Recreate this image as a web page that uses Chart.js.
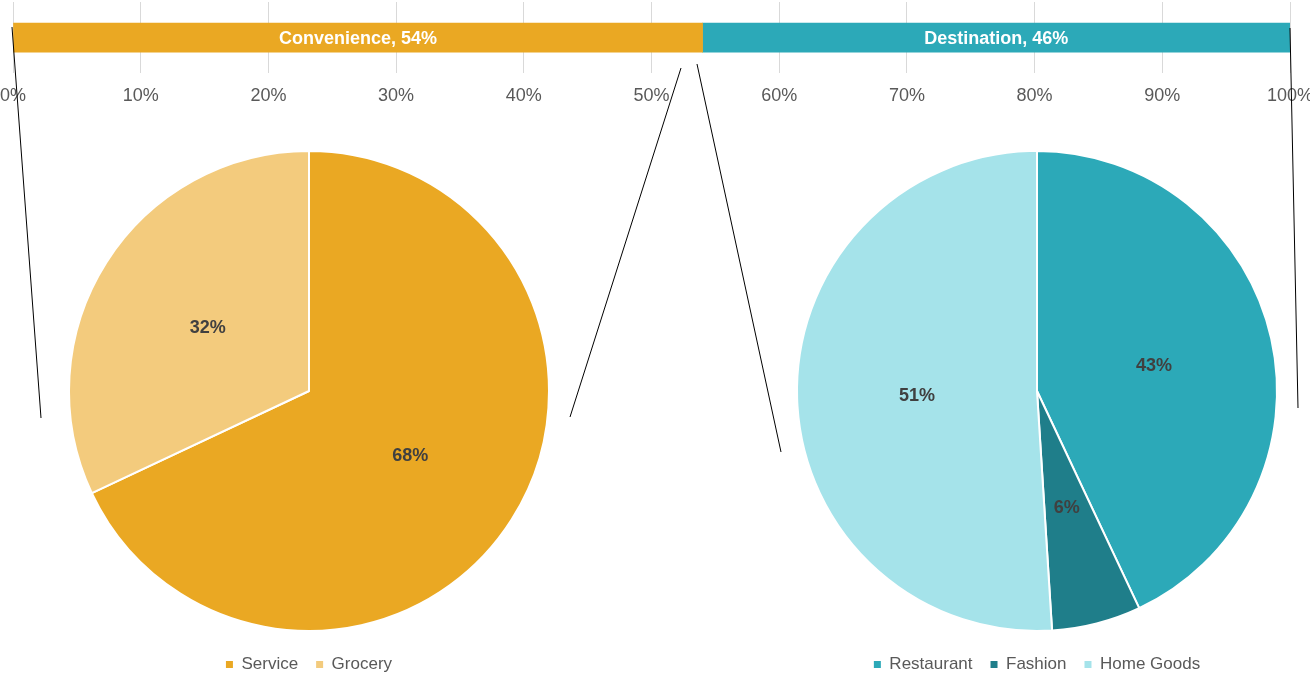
<!DOCTYPE html>
<html>
<head>
<meta charset="utf-8">
<title>Convenience vs Destination</title>
<script src="https://cdn.jsdelivr.net/npm/chart.js@4.4.1/dist/chart.umd.min.js"></script>
<style>
  html, body { margin: 0; padding: 0; background: #fff; }
  #wrap { position: relative; width: 1310px; height: 676px; overflow: hidden; }
  #wrap canvas { position: absolute; }
  #barChart { left: 0; top: 0; }
  #pieLeft { left: 59px; top: 137px; }
  #pieRight { left: 787px; top: 137px; }
  #connectors { left: 0; top: 0; pointer-events: none; }
</style>
</head>
<body>
<div id="wrap">
  <canvas id="barChart" width="1310" height="119"></canvas>
  <canvas id="pieLeft" width="500" height="546"></canvas>
  <canvas id="pieRight" width="500" height="546"></canvas>
  <canvas id="connectors" width="1310" height="676"></canvas>
</div>
<script>
// data
const segmentNames = ["Convenience", "Destination"];
const segmentShares = [54, 46];
const convenienceTypes = ["Service", "Grocery"];
const convenienceShares = [68, 32];
const destinationTypes = ["Restaurant", "Fashion", "Home Goods"];
const destinationShares = [43, 6, 51];
const axisTicks = [0, 10, 20, 30, 40, 50, 60, 70, 80, 90, 100];

const segmentColors = ["#EAA823", "#2CA9B8"];
const convenienceColors = ["#EAA823", "#F3CB7D"];
const destinationColors = ["#2CA9B8", "#1F7E8A", "#A5E3EA"];

const FONT = "'Liberation Sans', Arial, sans-serif";
Chart.defaults.font.family = FONT;
Chart.defaults.devicePixelRatio = 1;

// label inside each stacked segment: "Name, 54%"
const barLabels = {
  id: "barLabels",
  afterDatasetsDraw(chart) {
    const ctx = chart.ctx;
    ctx.save();
    ctx.font = "bold 18px " + FONT;
    ctx.fillStyle = "#fff";
    ctx.textAlign = "center";
    ctx.textBaseline = "middle";
    chart.data.datasets.forEach((ds, i) => {
      const bar = chart.getDatasetMeta(i).data[0];
      ctx.fillText(ds.label + ", " + ds.data[0] + "%", (bar.x + bar.base) / 2, bar.y + 1);
    });
    ctx.restore();
  }
};

// percentage in the middle of each slice
const sliceLabels = {
  id: "sliceLabels",
  afterDatasetsDraw(chart) {
    const ctx = chart.ctx;
    ctx.save();
    ctx.font = "bold 18px " + FONT;
    ctx.fillStyle = "#404040";
    ctx.textAlign = "center";
    ctx.textBaseline = "middle";
    const ds = chart.data.datasets[0];
    chart.getDatasetMeta(0).data.forEach((arc, i) => {
      const p = arc.tooltipPosition();
      ctx.fillText(ds.data[i] + "%", p.x, p.y + 1);
    });
    ctx.restore();
  }
};

new Chart(document.getElementById("barChart"), {
  type: "bar",
  data: {
    labels: [""],
    datasets: segmentNames.map((name, i) => ({
      label: name,
      data: [segmentShares[i]],
      backgroundColor: segmentColors[i],
      barThickness: 29
    }))
  },
  options: {
    indexAxis: "y",
    responsive: false,
    animation: false,
    layout: { padding: { left: 13, right: 20, top: 2, bottom: 0 } },
    plugins: { legend: { display: false }, tooltip: { enabled: false } },
    scales: {
      x: {
        stacked: true,
        min: 0,
        max: 100,
        afterBuildTicks(scale) {
          scale.ticks = axisTicks.map(v => ({ value: v }));
        },
        afterFit(scale) {
          scale.paddingLeft = 0;
          scale.paddingRight = 0;
        },
        ticks: {
          maxRotation: 0,
          autoSkip: false,
          padding: 12,
          color: "#595959",
          font: { size: 18 },
          callback: v => v + "%"
        },
        grid: { color: "#D9D9D9", drawTicks: false },
        border: { display: false }
      },
      y: { stacked: true, display: false }
    }
  },
  plugins: [barLabels]
});

function pieConfig(labels, values, colors) {
  return {
    type: "pie",
    data: {
      labels: labels,
      datasets: [{
        data: values,
        backgroundColor: colors,
        borderColor: "#fff",
        borderWidth: 2,
        radius: 240
      }]
    },
    options: {
      responsive: false,
      animation: false,
      layout: { padding: { top: 7 } },
      plugins: {
        tooltip: { enabled: false },
        legend: {
          position: "bottom",
          labels: {
            color: "#595959",
            font: { size: 17 },
            boxWidth: 7,
            boxHeight: 7,
            padding: 18,
            // plain square swatches, no white outline
            generateLabels(chart) {
              return Chart.overrides.pie.plugins.legend.labels.generateLabels(chart)
                .map(item => Object.assign(item, { lineWidth: 0, strokeStyle: item.fillStyle }));
            }
          }
        }
      }
    },
    plugins: [sliceLabels]
  };
}

new Chart(document.getElementById("pieLeft"),
  pieConfig(convenienceTypes, convenienceShares, convenienceColors));
new Chart(document.getElementById("pieRight"),
  pieConfig(destinationTypes, destinationShares, destinationColors));

// thin leader lines between the bar and the two pies
const lc = document.getElementById("connectors").getContext("2d");
lc.strokeStyle = "#000";
lc.lineWidth = 1;
[
  [12, 27, 41, 418],
  [681, 68, 570, 417],
  [697, 64, 781, 452],
  [1290, 28, 1298, 408]
].forEach(([x1, y1, x2, y2]) => {
  lc.beginPath();
  lc.moveTo(x1, y1);
  lc.lineTo(x2, y2);
  lc.stroke();
});
</script>
</body>
</html>
